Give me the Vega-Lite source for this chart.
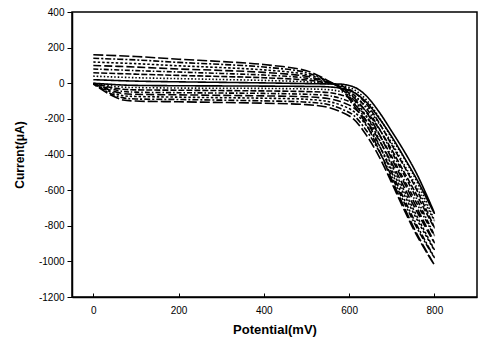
{
  "$schema": "https://vega.github.io/schema/vega-lite/v6.json",
  "width": 405,
  "height": 285,
  "autosize": {"type": "none"},
  "padding": {"left": 72, "top": 12, "right": 1, "bottom": 42},
  "background": "white",
  "config": {
    "view": {"stroke": "black", "strokeWidth": 1.5},
    "font": "Liberation Sans",
    "axis": {"grid": false, "domainColor": "black", "tickColor": "black", "labelColor": "black", "titleColor": "black", "labelFont": "Liberation Sans", "titleFont": "Liberation Sans", "labelFontSize": 10, "titleFontWeight": "bold", "domainWidth": 1.5, "labelExpr": "'' + datum.value"}
  },
  "data": {"values": [
    {"c":1,"x":0,"y":20},{"c":1,"x":100,"y":12},{"c":1,"x":200,"y":8},{"c":1,"x":300,"y":5},{"c":1,"x":400,"y":2},{"c":1,"x":500,"y":-2},{"c":1,"x":550,"y":-4},{"c":1,"x":585,"y":-6},{"c":1,"x":615,"y":-25},{"c":1,"x":640,"y":-70},{"c":1,"x":670,"y":-160},{"c":1,"x":700,"y":-270},{"c":1,"x":730,"y":-385},{"c":1,"x":760,"y":-515},{"c":1,"x":800,"y":-730},
    {"c":1,"x":760,"y":-545},{"c":1,"x":730,"y":-420},{"c":1,"x":700,"y":-300},{"c":1,"x":670,"y":-195},{"c":1,"x":640,"y":-105},{"c":1,"x":610,"y":-50},{"c":1,"x":580,"y":-28},{"c":1,"x":550,"y":-20},{"c":1,"x":500,"y":-18},{"c":1,"x":400,"y":-16},{"c":1,"x":300,"y":-15},{"c":1,"x":200,"y":-14},{"c":1,"x":100,"y":-12},{"c":1,"x":70,"y":-10},{"c":1,"x":40,"y":-6},{"c":1,"x":20,"y":-3},{"c":1,"x":0,"y":0},

    {"c":2,"x":0,"y":40},{"c":2,"x":100,"y":31},{"c":2,"x":200,"y":26},{"c":2,"x":300,"y":21},{"c":2,"x":400,"y":16},{"c":2,"x":500,"y":8},{"c":2,"x":550,"y":-2},{"c":2,"x":580,"y":-11},{"c":2,"x":610,"y":-34},{"c":2,"x":640,"y":-92},{"c":2,"x":670,"y":-190},{"c":2,"x":700,"y":-308},{"c":2,"x":730,"y":-425},{"c":2,"x":760,"y":-558},{"c":2,"x":800,"y":-771},
    {"c":2,"x":760,"y":-589},{"c":2,"x":730,"y":-461},{"c":2,"x":700,"y":-336},{"c":2,"x":670,"y":-225},{"c":2,"x":640,"y":-131},{"c":2,"x":610,"y":-71},{"c":2,"x":580,"y":-46},{"c":2,"x":550,"y":-36},{"c":2,"x":500,"y":-32},{"c":2,"x":400,"y":-29},{"c":2,"x":300,"y":-28},{"c":2,"x":200,"y":-27},{"c":2,"x":100,"y":-24},{"c":2,"x":70,"y":-22},{"c":2,"x":40,"y":-14},{"c":2,"x":20,"y":-7},{"c":2,"x":0,"y":-1},

    {"c":3,"x":0,"y":59},{"c":3,"x":100,"y":51},{"c":3,"x":200,"y":44},{"c":3,"x":300,"y":38},{"c":3,"x":400,"y":31},{"c":3,"x":500,"y":18},{"c":3,"x":550,"y":1},{"c":3,"x":580,"y":-14},{"c":3,"x":610,"y":-48},{"c":3,"x":640,"y":-115},{"c":3,"x":670,"y":-220},{"c":3,"x":700,"y":-346},{"c":3,"x":730,"y":-470},{"c":3,"x":760,"y":-605},{"c":3,"x":800,"y":-811},
    {"c":3,"x":760,"y":-633},{"c":3,"x":730,"y":-503},{"c":3,"x":700,"y":-373},{"c":3,"x":670,"y":-255},{"c":3,"x":640,"y":-157},{"c":3,"x":610,"y":-92},{"c":3,"x":580,"y":-65},{"c":3,"x":550,"y":-52},{"c":3,"x":500,"y":-47},{"c":3,"x":400,"y":-43},{"c":3,"x":300,"y":-41},{"c":3,"x":200,"y":-39},{"c":3,"x":100,"y":-37},{"c":3,"x":70,"y":-34},{"c":3,"x":40,"y":-23},{"c":3,"x":20,"y":-12},{"c":3,"x":0,"y":-1},

    {"c":4,"x":0,"y":80},{"c":4,"x":100,"y":71},{"c":4,"x":200,"y":63},{"c":4,"x":300,"y":55},{"c":4,"x":400,"y":46},{"c":4,"x":500,"y":29},{"c":4,"x":550,"y":4},{"c":4,"x":580,"y":-17},{"c":4,"x":610,"y":-63},{"c":4,"x":640,"y":-139},{"c":4,"x":670,"y":-252},{"c":4,"x":700,"y":-386},{"c":4,"x":730,"y":-518},{"c":4,"x":760,"y":-656},{"c":4,"x":800,"y":-855},
    {"c":4,"x":760,"y":-680},{"c":4,"x":730,"y":-547},{"c":4,"x":700,"y":-412},{"c":4,"x":670,"y":-287},{"c":4,"x":640,"y":-185},{"c":4,"x":610,"y":-115},{"c":4,"x":580,"y":-85},{"c":4,"x":550,"y":-69},{"c":4,"x":500,"y":-62},{"c":4,"x":400,"y":-57},{"c":4,"x":300,"y":-55},{"c":4,"x":200,"y":-53},{"c":4,"x":100,"y":-50},{"c":4,"x":70,"y":-46},{"c":4,"x":40,"y":-31},{"c":4,"x":20,"y":-17},{"c":4,"x":0,"y":-2},

    {"c":5,"x":0,"y":100},{"c":5,"x":100,"y":91},{"c":5,"x":200,"y":80},{"c":5,"x":300,"y":72},{"c":5,"x":400,"y":61},{"c":5,"x":500,"y":39},{"c":5,"x":550,"y":6},{"c":5,"x":580,"y":-21},{"c":5,"x":610,"y":-77},{"c":5,"x":640,"y":-161},{"c":5,"x":670,"y":-283},{"c":5,"x":700,"y":-424},{"c":5,"x":730,"y":-562},{"c":5,"x":760,"y":-704},{"c":5,"x":800,"y":-895},
    {"c":5,"x":760,"y":-725},{"c":5,"x":730,"y":-588},{"c":5,"x":700,"y":-448},{"c":5,"x":670,"y":-318},{"c":5,"x":640,"y":-210},{"c":5,"x":610,"y":-136},{"c":5,"x":580,"y":-103},{"c":5,"x":550,"y":-86},{"c":5,"x":500,"y":-76},{"c":5,"x":400,"y":-71},{"c":5,"x":300,"y":-68},{"c":5,"x":200,"y":-65},{"c":5,"x":100,"y":-62},{"c":5,"x":70,"y":-58},{"c":5,"x":40,"y":-40},{"c":5,"x":20,"y":-21},{"c":5,"x":0,"y":-3},

    {"c":6,"x":0,"y":119},{"c":6,"x":100,"y":110},{"c":6,"x":200,"y":98},{"c":6,"x":300,"y":88},{"c":6,"x":400,"y":75},{"c":6,"x":500,"y":49},{"c":6,"x":550,"y":9},{"c":6,"x":580,"y":-24},{"c":6,"x":610,"y":-91},{"c":6,"x":640,"y":-184},{"c":6,"x":670,"y":-313},{"c":6,"x":700,"y":-462},{"c":6,"x":730,"y":-607},{"c":6,"x":760,"y":-751},{"c":6,"x":800,"y":-936},
    {"c":6,"x":760,"y":-769},{"c":6,"x":730,"y":-629},{"c":6,"x":700,"y":-485},{"c":6,"x":670,"y":-348},{"c":6,"x":640,"y":-236},{"c":6,"x":610,"y":-157},{"c":6,"x":580,"y":-122},{"c":6,"x":550,"y":-102},{"c":6,"x":500,"y":-90},{"c":6,"x":400,"y":-84},{"c":6,"x":300,"y":-81},{"c":6,"x":200,"y":-78},{"c":6,"x":100,"y":-74},{"c":6,"x":70,"y":-70},{"c":6,"x":40,"y":-48},{"c":6,"x":20,"y":-26},{"c":6,"x":0,"y":-4},

    {"c":7,"x":0,"y":140},{"c":7,"x":100,"y":131},{"c":7,"x":200,"y":117},{"c":7,"x":300,"y":106},{"c":7,"x":400,"y":91},{"c":7,"x":500,"y":60},{"c":7,"x":550,"y":12},{"c":7,"x":580,"y":-27},{"c":7,"x":610,"y":-106},{"c":7,"x":640,"y":-208},{"c":7,"x":670,"y":-345},{"c":7,"x":700,"y":-502},{"c":7,"x":730,"y":-655},{"c":7,"x":760,"y":-802},{"c":7,"x":800,"y":-979},
    {"c":7,"x":760,"y":-816},{"c":7,"x":730,"y":-674},{"c":7,"x":700,"y":-524},{"c":7,"x":670,"y":-380},{"c":7,"x":640,"y":-264},{"c":7,"x":610,"y":-179},{"c":7,"x":580,"y":-142},{"c":7,"x":550,"y":-119},{"c":7,"x":500,"y":-106},{"c":7,"x":400,"y":-99},{"c":7,"x":300,"y":-95},{"c":7,"x":200,"y":-91},{"c":7,"x":100,"y":-88},{"c":7,"x":70,"y":-82},{"c":7,"x":40,"y":-57},{"c":7,"x":20,"y":-31},{"c":7,"x":0,"y":-4},

    {"c":8,"x":0,"y":160},{"c":8,"x":100,"y":150},{"c":8,"x":200,"y":135},{"c":8,"x":300,"y":122},{"c":8,"x":400,"y":105},{"c":8,"x":500,"y":70},{"c":8,"x":550,"y":15},{"c":8,"x":580,"y":-30},{"c":8,"x":610,"y":-120},{"c":8,"x":640,"y":-230},{"c":8,"x":670,"y":-375},{"c":8,"x":700,"y":-540},{"c":8,"x":730,"y":-700},{"c":8,"x":760,"y":-850},{"c":8,"x":800,"y":-1020},
    {"c":8,"x":760,"y":-860},{"c":8,"x":730,"y":-715},{"c":8,"x":700,"y":-560},{"c":8,"x":670,"y":-410},{"c":8,"x":640,"y":-290},{"c":8,"x":610,"y":-200},{"c":8,"x":580,"y":-160},{"c":8,"x":550,"y":-135},{"c":8,"x":500,"y":-120},{"c":8,"x":400,"y":-112},{"c":8,"x":300,"y":-108},{"c":8,"x":200,"y":-104},{"c":8,"x":100,"y":-100},{"c":8,"x":70,"y":-94},{"c":8,"x":40,"y":-65},{"c":8,"x":20,"y":-35},{"c":8,"x":0,"y":-5}
  ]},
  "mark": {"type": "line", "interpolate": "catmull-rom", "color": "black", "strokeWidth": 1.6},
  "encoding": {
    "x": {"field": "x", "type": "quantitative", "scale": {"domain": [-50, 900], "nice": false, "zero": false},
      "axis": {"values": [0, 200, 400, 600, 800], "title": "Potential(mV)", "titleFontSize": 13, "titlePadding": 8, "tickSize": -4, "labelPadding": 12, "labelFontSize": 10}},
    "y": {"field": "y", "type": "quantitative", "scale": {"domain": [-1200, 400], "nice": false},
      "axis": {"values": [400, 200, 0, -200, -400, -600, -800, -1000, -1200], "title": "Current(μA)", "titleFontSize": 12, "tickSize": 5, "labelPadding": 3, "titlePadding": 12}},
    "detail": {"field": "c", "type": "nominal"},
    "strokeDash": {"field": "c", "type": "nominal", "legend": null,
      "scale": {"domain": [1,2,3,4,5,6,7,8], "range": [[1,0],[1.5,2],[6,2],[5,2,1.5,2],[8,3],[2.5,2],[6,2,2,2],[10,3]]}},
    "order": {"value": null}
  }
}
